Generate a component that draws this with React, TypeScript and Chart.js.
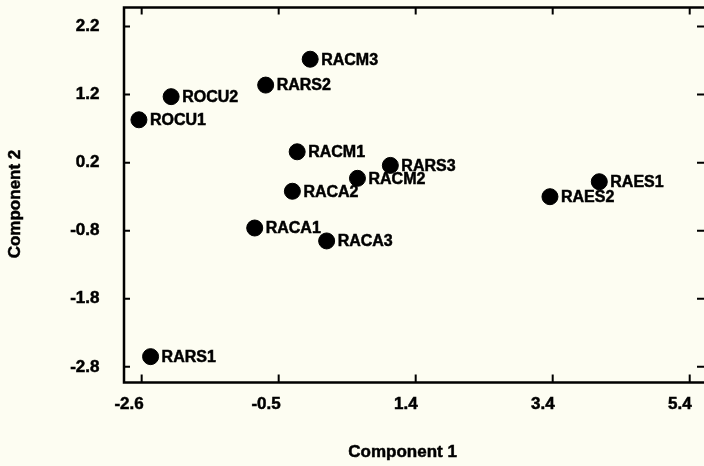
import React, { useEffect, useRef } from "react";
import { Chart, registerables } from "chart.js";

Chart.register(...registerables);

const sampleNames = ["RACM3", "RARS2", "ROCU2", "ROCU1", "RACM1", "RARS3", "RACM2", "RACA2", "RACA1", "RACA3", "RARS1", "RAES1", "RAES2"];
const component1 = [-0.14, -0.79, -2.17, -2.64, -0.33, 1.03, 0.55, -0.4, -0.95, 0.1, -2.47, 4.08, 3.36];
const component2 = [1.72, 1.34, 1.17, 0.83, 0.36, 0.16, -0.03, -0.22, -0.76, -0.95, -2.65, -0.08, -0.3];

const xTickValues = [-2.6, -0.6, 1.4, 3.4, 5.4];
const xTickLabels = ["-2.6", "-0.5", "1.4", "3.4", "5.4"];
const yTickValues = [2.2, 1.2, 0.2, -0.8, -1.8, -2.8];
const yTickLabels = ["2.2", "1.2", "0.2", "-0.8", "-1.8", "-2.8"];

const xTitle = "Component 1";
const yTitle = "Component 2";

const BG = "#fdfdf2";
const FONT = "'Liberation Sans', Arial, Helvetica, sans-serif";
const STROKE = 0.5;

const framePlugin = {
  id: "frame",
  beforeDraw(chart: any) {
    const ctx = chart.ctx;
    ctx.save();
    ctx.fillStyle = BG;
    ctx.fillRect(0, 0, chart.width, chart.height);
    ctx.restore();
  },
  afterDraw(chart: any) {
    const ctx = chart.ctx;
    const { left, right, top, bottom } = chart.chartArea;
    const xs = chart.scales.x;
    const ys = chart.scales.y;
    ctx.save();
    ctx.strokeStyle = "#000";
    ctx.lineWidth = 2.5;
    ctx.beginPath();
    ctx.rect(left, top, right - left, bottom - top);
    ctx.stroke();
    ctx.lineWidth = 2;
    ctx.beginPath();
    xTickValues.forEach((v) => {
      const px = xs.getPixelForValue(v);
      ctx.moveTo(px, bottom);
      ctx.lineTo(px, bottom - 8);
      ctx.moveTo(px, top);
      ctx.lineTo(px, top + 7);
    });
    yTickValues.forEach((v) => {
      const py = ys.getPixelForValue(v);
      ctx.moveTo(left, py);
      ctx.lineTo(left + 6, py);
      ctx.moveTo(right, py);
      ctx.lineTo(right - 11, py);
    });
    ctx.stroke();

    const drawText = (t: string, x: number, y: number) => {
      ctx.fillText(t, x, y);
      ctx.strokeText(t, x, y);
    };

    // point labels
    ctx.fillStyle = "#000";
    ctx.strokeStyle = "#000";
    ctx.lineWidth = STROKE;
    ctx.font = `bold 16px ${FONT}`;
    ctx.textAlign = "left";
    ctx.textBaseline = "middle";
    const meta = chart.getDatasetMeta(0);
    meta.data.forEach((el: any, i: number) => {
      drawText(sampleNames[i], el.x + 11, el.y + 1);
    });

    // axis titles
    ctx.font = `bold 17px ${FONT}`;
    ctx.textAlign = "center";
    ctx.textBaseline = "middle";
    drawText(xTitle, left + (right - left) * 0.477, 452);
    ctx.save();
    ctx.translate(15, (top + bottom) / 2 + 9);
    ctx.rotate(-Math.PI / 2);
    drawText(yTitle, 0, 0);
    ctx.restore();
    ctx.restore();
  },
};

export default function App() {
  const ref = useRef<HTMLCanvasElement>(null);
  useEffect(() => {
    document.body.style.margin = "0";
    document.body.style.background = BG;
    const canvas = ref.current!;
    const chart = new Chart(canvas, {
      type: "scatter",
      data: {
        datasets: [
          {
            data: component1.map((x, i) => ({ x, y: component2[i] })),
            backgroundColor: "#000",
            borderColor: "#000",
            pointRadius: 8,
            pointHoverRadius: 8,
            clip: false as any,
          },
        ],
      },
      options: {
        animation: false,
        responsive: false,
        devicePixelRatio: 1,
        layout: { autoPadding: false, padding: { top: 7.5, right: 4, left: 0, bottom: 0 } },
        plugins: { legend: { display: false }, tooltip: { enabled: false }, title: { display: false } },
        scales: {
          x: {
            type: "linear",
            min: -2.858,
            max: 5.667,
            grid: { display: false, drawTicks: false },
            border: { display: false },
            afterBuildTicks: (s: any) => {
              s.ticks = xTickValues.map((v) => ({ value: v }));
            },
            afterFit: (s: any) => {
              s.height = 83.5;
              s.paddingLeft = 0;
              s.paddingRight = 0;
            },
            ticks: {
              autoSkip: false,
              maxRotation: 0,
              align: "end",
              labelOffset: 2,
              padding: 12,
              color: "#000",
              textStrokeColor: "#000",
              textStrokeWidth: STROKE,
              font: { family: FONT, weight: "bold", size: 17 },
              callback: (_v: any, i: number) => xTickLabels[i],
            },
          },
          y: {
            type: "linear",
            min: -3.03,
            max: 2.48,
            grid: { display: false, drawTicks: false },
            border: { display: false },
            afterBuildTicks: (s: any) => {
              s.ticks = yTickValues.map((v) => ({ value: v }));
            },
            afterFit: (s: any) => {
              s.width = 124;
              s.paddingTop = 0;
              s.paddingBottom = 0;
            },
            ticks: {
              autoSkip: false,
              padding: 24.5,
              color: "#000",
              textStrokeColor: "#000",
              textStrokeWidth: STROKE,
              font: { family: FONT, weight: "bold", size: 17 },
              callback: (_v: any, i: number) => yTickLabels[i],
            },
          },
        },
      },
      plugins: [framePlugin],
    });
    return () => chart.destroy();
  }, []);
  return (
    <div style={{ width: 704, height: 466, overflow: "hidden", background: BG }}>
      <canvas ref={ref} width={712} height={466} style={{ display: "block", width: 712, height: 466 }} />
    </div>
  );
}
